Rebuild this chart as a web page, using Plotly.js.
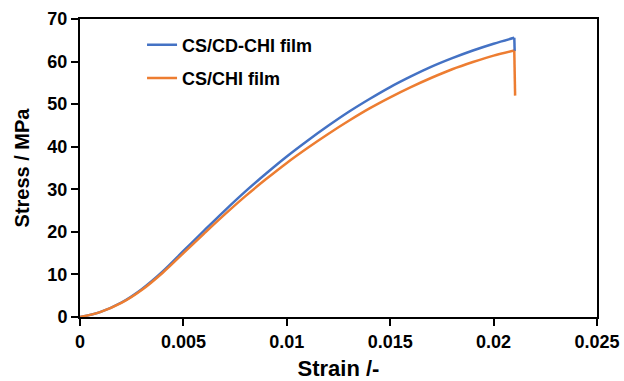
<!DOCTYPE html>
<html>
<head>
<meta charset="utf-8">
<script src="https://cdn.plot.ly/plotly-3.0.1.min.js"></script>
<style>html,body{margin:0;padding:0;background:#fff;}#chart{width:624px;height:381px;}</style>
</head>
<body>
<div id="chart"></div>
<script>
const strainCSCD = [0,0.001,0.002,0.003,0.004,0.005,0.006,0.007,0.008,0.009,0.010,0.011,0.012,0.013,0.014,0.015,0.016,0.017,0.018,0.019,0.020,0.021];
const stressCSCD = [0,1.2,3.4,6.6,10.7,15.5,20.3,25.0,29.5,33.7,37.7,41.4,44.9,48.2,51.2,54.0,56.5,58.8,60.8,62.6,64.2,65.6];
const strainCS = [0,0.001,0.002,0.003,0.004,0.005,0.006,0.007,0.008,0.009,0.010,0.011,0.012,0.013,0.014,0.015,0.016,0.017,0.018,0.019,0.020,0.021];
const stressCS = [0,1.2,3.3,6.4,10.4,15.0,19.6,24.1,28.4,32.4,36.2,39.7,43.0,46.1,49.0,51.6,54.0,56.2,58.2,59.9,61.4,62.6];
// failure drops at the end of each test
const dropStrainCSCD = [0.021, 0.02102];
const dropStressCSCD = [65.6, 62.5];
const dropStrainCS = [0.021, 0.02104];
const dropStressCS = [62.6, 52.0];
const seriesNames = ["CS/CD-CHI film", "CS/CHI film"];
const xTicks = [0,0.005,0.01,0.015,0.02,0.025];
const xTickLabels = ["0","0.005","0.01","0.015","0.02","0.025"];
const yTicks = [0,10,20,30,40,50,60,70];

const fontFam = "Liberation Sans, Arial, sans-serif";
const blue = "#4472C4", orange = "#ED7D31";
const traces = [
  {x: strainCSCD, y: stressCSCD, name: seriesNames[0], legendgroup: "a", mode: "lines", line: {color: blue, width: 2.5, shape: "spline", smoothing: 1}},
  {x: strainCS, y: stressCS, name: seriesNames[1], legendgroup: "b", mode: "lines", line: {color: orange, width: 2.5, shape: "spline", smoothing: 1}},
  {x: dropStrainCSCD, y: dropStressCSCD, legendgroup: "a", showlegend: false, mode: "lines", line: {color: blue, width: 2.5}},
  {x: dropStrainCS, y: dropStressCS, legendgroup: "b", showlegend: false, mode: "lines", line: {color: orange, width: 2.5}}
];
const axisCommon = {
  showgrid: false, zeroline: false, showline: true, linecolor: "#000", linewidth: 2,
  mirror: true, ticks: "outside", ticklen: 7, tickwidth: 2, tickcolor: "#000",
  tickfont: {family: fontFam, size: 18, color: "#000", weight: "bold"}
};
const layout = {
  width: 624, height: 381,
  margin: {l: 80, r: 27, t: 19, b: 64},
  paper_bgcolor: "#fff", plot_bgcolor: "#fff",
  showlegend: true,
  legend: {x: 0.12, y: 0.975, xanchor: "left", yanchor: "top", bgcolor: "rgba(0,0,0,0)",
    traceorder: "grouped", tracegroupgap: 7,
    font: {family: fontFam, size: 18, color: "#000", weight: "bold"}},
  xaxis: Object.assign({}, axisCommon, {
    range: [0, 0.025], tickvals: xTicks, ticktext: xTickLabels,
    title: {text: "Strain /-", font: {family: fontFam, size: 22, color: "#000", weight: "bold"}, standoff: 12}
  }),
  yaxis: Object.assign({}, axisCommon, {
    range: [0, 70], tickvals: yTicks,
    title: {text: "Stress / MPa", font: {family: fontFam, size: 20, color: "#000", weight: "bold"}, standoff: 12}
  })
};
Plotly.newPlot("chart", traces, layout, {displayModeBar: false, staticPlot: true});
</script>
</body>
</html>
